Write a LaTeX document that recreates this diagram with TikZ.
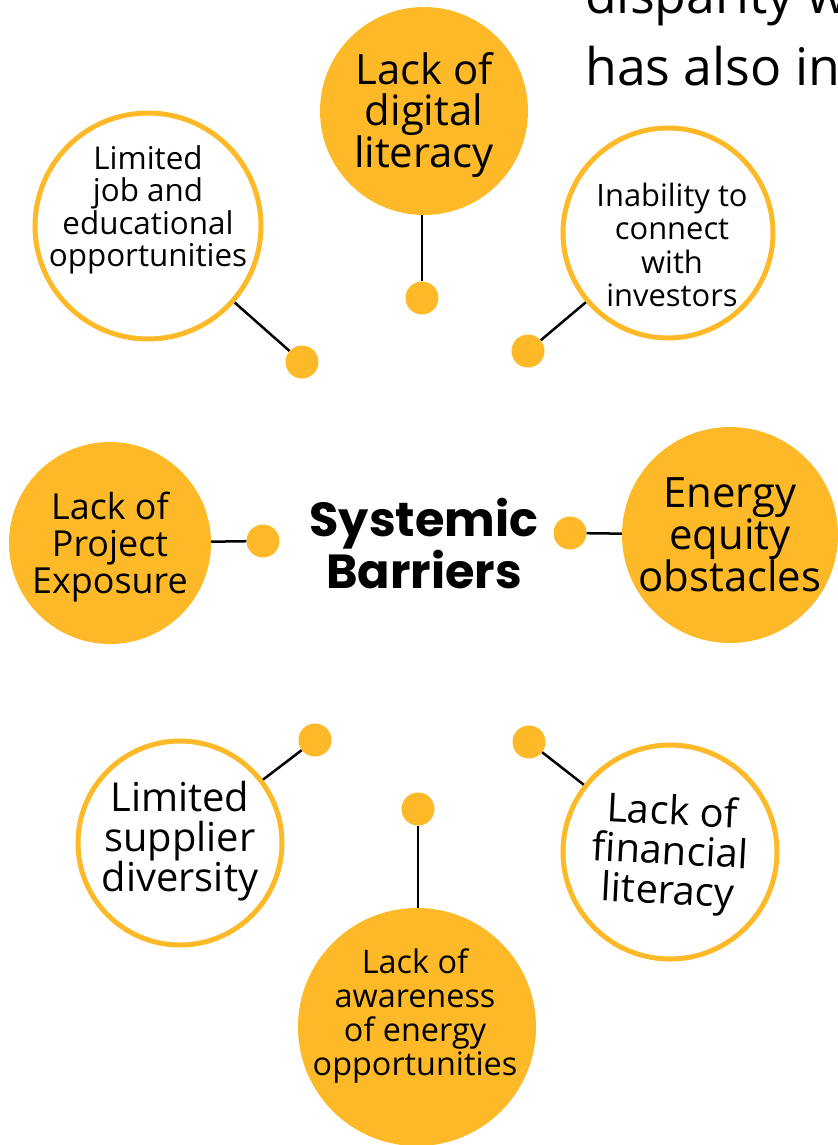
\documentclass[tikz,border=0pt]{standalone}
\usepackage{fontspec}
\setmainfont{Open Sans}
\newfontfamily\titlefont{Poppins}
\usetikzlibrary{positioning}
\definecolor{barriergold}{RGB}{253,185,39}
\newcommand{\fsz}[2]{\fontsize{#1}{#2}\selectfont}

\begin{document}
\begin{tikzpicture}[x=1bp, y=-1bp,
    disc/.style={circle, fill=barriergold, inner sep=0pt},
    ring/.style={circle, draw=barriergold, line width=5bp, fill=white, inner sep=0pt},
    dot/.style={circle, fill=barriergold, inner sep=0pt, minimum size=33bp},
    link/.style={line width=2.5bp, black},
    lbl/.style={align=center, inner sep=0pt}]
    \useasboundingbox (0,0) rectangle (838,1145);
    \clip (0,0) rectangle (838,1145);

    % running text behind the diagram
    \node[anchor=base west, align=left, inner sep=0pt, font=\fsz{52}{72}] (intro) at (585,85)
        {disparity w\\has also in};

    % circles
    \node[disc, minimum size=208bp] (digital) at (424,111) {};
    \node[ring, minimum size=226bp] (jobs) at (148,226) {};
    \node[ring, minimum size=210bp] (investors) at (668,233) {};
    \node[disc, minimum size=202bp] (exposure) at (110,543) {};
    \node[disc, minimum size=216bp] (equity) at (730,535) {};
    \node[ring, minimum size=204bp] (supplier) at (180,843) {};
    \node[disc, minimum size=238bp] (awareness) at (417,1027) {};
    \node[ring, minimum size=214bp] (financial) at (670,852) {};

    % dots
    \node[dot] (d-digital) at (422,298) {};
    \node[dot] (d-jobs) at (302,362) {};
    \node[dot] (d-investors) at (528,351) {};
    \node[dot] (d-exposure) at (263,541) {};
    \node[dot] (d-equity) at (570,533) {};
    \node[dot] (d-supplier) at (315,740) {};
    \node[dot] (d-awareness) at (418,809) {};
    \node[dot] (d-financial) at (529,742) {};

    \draw[link] (d-digital) -- (d-digital |- digital.south);
    \draw[link] (d-jobs) -- (jobs);
    \draw[link] (d-investors) -- (investors);
    \draw[link] (d-exposure) -- (exposure);
    \draw[link] (d-equity) -- (equity);
    \draw[link] (d-supplier) -- (supplier);
    \draw[link] (d-awareness) -- (d-awareness |- awareness.north);
    \draw[link] (d-financial) -- (financial);

    % labels
    \node[lbl, font=\fsz{42}{42}] (t-digital) at ([yshift=-4bp]digital.center) {Lack of\\digital\\literacy};
    \node[lbl, font=\fsz{31.5}{32.5}] (t-jobs) at ([yshift=16bp]jobs.center) {Limited\\job and\\educational\\opportunities};
    \node[lbl, font=\fsz{31}{33.5}] (t-investors) at ([xshift=4bp, yshift=-12bp]investors.center) {Inability to\\connect\\with\\investors};
    \node[lbl, font=\fsz{36}{37.5}] (t-exposure) at ([yshift=-4bp]exposure.center) {Lack of\\Project\\Exposure};
    \node[lbl, font=\fsz{42}{42}] (t-equity) at (equity) {Energy\\equity\\obstacles};
    \node[lbl, font=\fsz{40}{40.5}] (t-supplier) at ([yshift=2bp]supplier.center) {Limited\\supplier\\diversity};
    \node[lbl, font=\fsz{32.5}{34}] (t-awareness) at ([xshift=-2bp, yshift=11bp]awareness.center) {Lack of\\awareness\\of energy\\opportunities};
    \node[lbl, font=\fsz{40}{40}, rotate=-3] (t-financial) at ([yshift=-2bp]financial.center) {Lack of\\financial\\literacy};

    \node[lbl, font=\titlefont\bfseries\fsz{48}{51}] (title) at (424,544) {Systemic\\Barriers};
\end{tikzpicture}
\end{document}
